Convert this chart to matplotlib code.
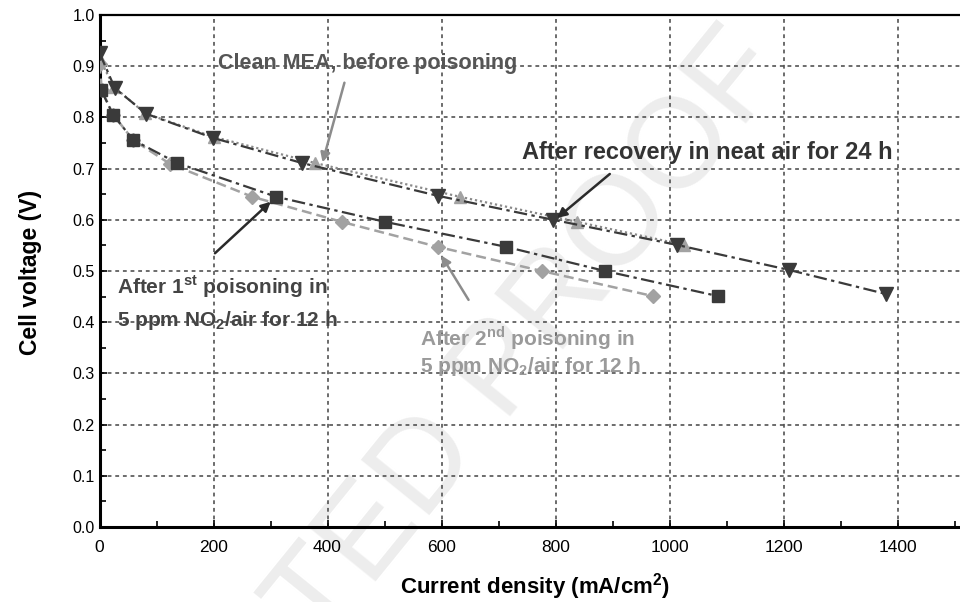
import matplotlib
matplotlib.use("Agg")
import matplotlib.pyplot as plt
from matplotlib.ticker import MultipleLocator, FormatStrFormatter

plt.rcParams['font.family'] = ['Liberation Sans', 'DejaVu Sans']
plt.rcParams['mathtext.fontset'] = 'custom'
plt.rcParams['mathtext.rm'] = 'Liberation Sans'
plt.rcParams['mathtext.bf'] = 'Liberation Sans:bold'

# Polarization curves: current density (mA/cm2) vs cell voltage (V)
clean_j = [0, 25, 80, 200, 378, 632, 838, 1025]
clean_v = [0.915, 0.86, 0.808, 0.762, 0.711, 0.645, 0.596, 0.551]

recovery_j = [0, 27, 82, 199, 355, 593, 796, 1013, 1210, 1380]
recovery_v = [0.926, 0.857, 0.807, 0.760, 0.711, 0.647, 0.600, 0.551, 0.502, 0.455]

first_j = [3, 24, 59, 136, 310, 501, 714, 887, 1085]
first_v = [0.853, 0.805, 0.756, 0.711, 0.645, 0.596, 0.547, 0.500, 0.451]

second_j = [0, 4, 24, 59, 124, 268, 425, 594, 776, 971]
second_v = [0.905, 0.853, 0.805, 0.756, 0.709, 0.645, 0.596, 0.547, 0.500, 0.451]

x_ticks = [0, 200, 400, 600, 800, 1000, 1200, 1400]
y_ticks = [0.0, 0.1, 0.2, 0.3, 0.4, 0.5, 0.6, 0.7, 0.8, 0.9, 1.0]

fig = plt.figure(figsize=(9.6, 6.02), dpi=100)
ax = fig.add_axes([99.5 / 960, 75 / 602, 912 / 960, 512 / 602])

dark = '#3a3a3a'
light = '#a2a2a2'

ax.plot(clean_j, clean_v, color='#8a8a8a', lw=1.6, linestyle=(0, (1, 1.3)),
        marker='^', ms=9, mfc=light, mec=light, zorder=3)
ax.plot(second_j, second_v, color=light, lw=1.8, linestyle=(0, (4, 2)),
        marker='D', ms=7, mfc=light, mec=light, zorder=3)
ax.plot(first_j, first_v, color=dark, lw=1.6, linestyle=(0, (6, 2, 1.5, 2)),
        marker='s', ms=9, mfc=dark, mec=dark, zorder=4)
ax.plot(recovery_j, recovery_v, color=dark, lw=1.6, linestyle=(0, (6, 2, 1.5, 2)),
        marker='v', ms=9.5, mfc=dark, mec=dark, zorder=5)

ax.set_xlim(0, 1600)
ax.set_ylim(0, 1.0)
ax.set_xticks(x_ticks)
ax.set_yticks(y_ticks)
ax.xaxis.set_minor_locator(MultipleLocator(100))
ax.yaxis.set_minor_locator(MultipleLocator(0.05))
ax.yaxis.set_major_formatter(FormatStrFormatter('%.1f'))
ax.tick_params(which='both', direction='in', color='black')
ax.tick_params(axis='y', labelsize=11.5)
ax.tick_params(axis='x', labelsize=12.5, pad=9)
ax.tick_params(which='major', length=5, width=1.2)
ax.tick_params(which='minor', length=4, width=1.2)
ax.grid(which='major', color='#444444', lw=1.1, linestyle=(0, (2.5, 2.5)))
# gridline beyond the last labelled tick
ax.axvline(1600, color='#444444', lw=1.1, linestyle=(0, (2.5, 2.5)))

for side in ('left', 'bottom'):
    ax.spines[side].set_linewidth(2.2)
ax.spines['top'].set_linewidth(1.6)
ax.spines['right'].set_visible(False)

ax.set_xlabel('Current density (mA/cm$^{\\mathbf{2}}$)', fontsize=16, fontweight='bold')
ax.xaxis.set_label_coords((535 - 99.5) / 912, -(571 - 527) / 512)
ax.set_ylabel('Cell voltage (V)', fontsize=16.5, fontweight='bold')
ax.yaxis.set_label_coords(-(99.5 - 42) / 912, (527 - 272) / 512)

# faint diagonal stamp
ax.text(1210, 0.89, 'UNCORRECTED PROOF', rotation=51, rotation_mode='anchor',
        ha='right', va='baseline', fontsize=92, color='#ededed',
        transform=ax.transData, clip_on=False, zorder=1)

ax.text(208, 0.906, 'Clean MEA, before poisoning', color='#555555', va='center',
        fontsize=15.5, fontweight='bold')
ax.text(741, 0.732, 'After recovery in neat air for 24 h', color='#333333', va='center',
        fontsize=17, fontweight='bold')
txt = dict(fontsize=15, fontweight='bold', va='center')
ax.text(31, 0.469, 'After 1$^{\\mathbf{st}}$ poisoning in', color='#444444', **txt)
ax.text(31, 0.404, '5 ppm NO$_{\\mathbf{2}}$/air for 12 h', color='#444444', **txt)
ax.text(562, 0.369, 'After 2$^{\\mathbf{nd}}$ poisoning in', color='#9a9a9a', **txt)
ax.text(562, 0.3125, '5 ppm NO$_{\\mathbf{2}}$/air for 12 h', color='#9a9a9a', **txt)

arrow_dark = dict(arrowstyle='-|>', color='#2a2a2a', lw=1.8, mutation_scale=14)
arrow_light = dict(arrowstyle='-|>', color='#8c8c8c', lw=1.8, mutation_scale=14)
ax.annotate('', xy=(390, 0.707), xytext=(431, 0.873), arrowprops=arrow_light, zorder=6)
ax.annotate('', xy=(799, 0.600), xytext=(899, 0.693), arrowprops=arrow_dark, zorder=6)
ax.annotate('', xy=(304, 0.639), xytext=(199, 0.531), arrowprops=arrow_dark, zorder=6)
ax.annotate('', xy=(597, 0.535), xytext=(650, 0.439), arrowprops=arrow_light, zorder=6)

fig.savefig('out.png', dpi=100)
